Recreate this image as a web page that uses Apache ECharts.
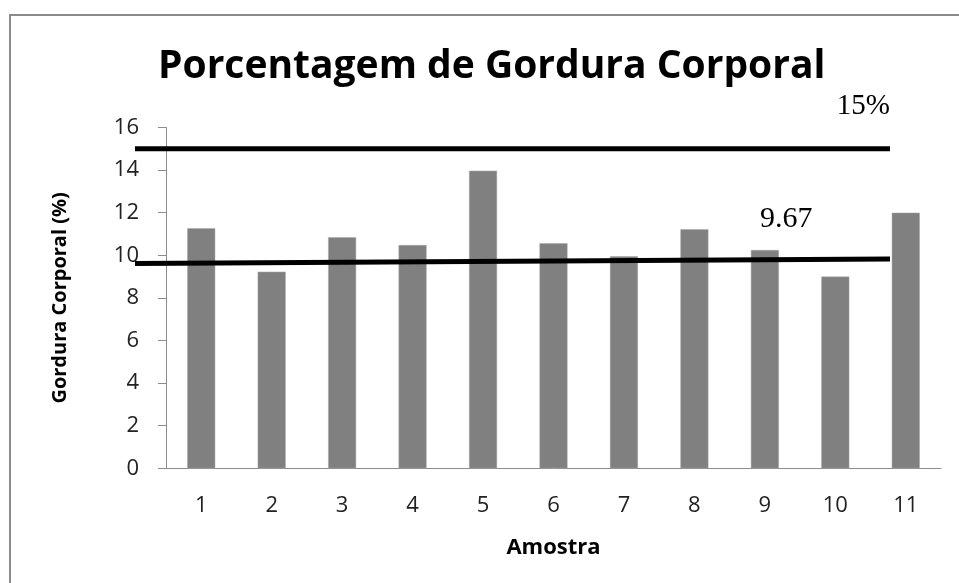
<!DOCTYPE html>
<html>
<head>
    <meta charset="utf-8">
    <title>Porcentagem de Gordura Corporal</title>
    <script src="https://cdn.jsdelivr.net/npm/echarts@6/dist/echarts.min.js"></script>
    <style>
        html, body { margin: 0; padding: 0; background: #ffffff; }
        #chart { width: 959px; height: 583px; }
    </style>
</head>
<body>
<div id="chart"></div>
<script>
    // dados
    var amostras = ['1', '2', '3', '4', '5', '6', '7', '8', '9', '10', '11'];
    var gordura = [11.27, 9.23, 10.85, 10.48, 13.97, 10.56, 9.95, 11.22, 10.25, 9.0, 12.0];
    var yTicks = [0, 2, 4, 6, 8, 10, 12, 14, 16];
    // linhas de referência (início, fim)
    var linhaLimite = [15, 15];
    var linhaMedia = [9.62, 9.83];
    var rotulos = ['15%', '9.67'];

    var chart = echarts.init(document.getElementById('chart'));

    var eixoCor = '#8c8c8c';
    var fonte = '"Open Sans", sans-serif';

    var option = {
        animation: false,
        backgroundColor: '#ffffff',
        title: {
            text: 'Porcentagem de Gordura Corporal',
            left: 153,
            top: 42,
            textStyle: { fontFamily: fonte, fontWeight: 'bold', fontSize: 39, color: '#000' }
        },
        grid: [
            { left: 166, right: 18, top: 127.5, bottom: 114.7 },
            { left: 135, right: 69, top: 127.5, bottom: 114.7 }
        ],
        xAxis: [{
            type: 'category',
            gridIndex: 0,
            data: amostras,
            name: 'Amostra',
            nameLocation: 'middle',
            nameGap: 68,
            nameTextStyle: { fontFamily: fonte, fontWeight: 'bold', fontSize: 22, color: '#000' },
            axisLine: { lineStyle: { color: eixoCor } },
            axisTick: { length: 8, lineStyle: { color: eixoCor } },
            axisLabel: { margin: 26, fontFamily: fonte, fontSize: 22, color: '#222' }
        }, {
            type: 'value',
            gridIndex: 1,
            min: 0,
            max: 1,
            show: false
        }],
        yAxis: [{
            type: 'value',
            gridIndex: 0,
            min: yTicks[0],
            max: yTicks[yTicks.length - 1],
            interval: 2,
            name: 'Gordura Corporal (%)',
            nameLocation: 'middle',
            nameGap: 96,
            nameTextStyle: { fontFamily: fonte, fontWeight: 'bold', fontSize: 20, color: '#000' },
            axisLine: { show: true, lineStyle: { color: eixoCor } },
            axisTick: { show: true, length: 8, lineStyle: { color: eixoCor } },
            axisLabel: { margin: 27, fontFamily: fonte, fontSize: 22, color: '#222' },
            splitLine: { show: false }
        }, {
            type: 'value',
            gridIndex: 1,
            min: yTicks[0],
            max: yTicks[yTicks.length - 1],
            show: false
        }],
        series: [{
            type: 'bar',
            xAxisIndex: 0,
            yAxisIndex: 0,
            data: gordura,
            barWidth: 28,
            itemStyle: { color: '#808080', borderColor: '#a6a6a6', borderWidth: 0.5 }
        }, {
            type: 'line',
            xAxisIndex: 1,
            yAxisIndex: 1,
            data: [[0, linhaLimite[0]], [1, linhaLimite[1]]],
            symbol: 'none',
            lineStyle: { color: '#000', width: 5 }
        }, {
            type: 'line',
            xAxisIndex: 1,
            yAxisIndex: 1,
            data: [[0, linhaMedia[0]], [1, linhaMedia[1]]],
            symbol: 'none',
            lineStyle: { color: '#000', width: 5 }
        }],
        graphic: [{
            type: 'rect',
            shape: { x: 10, y: 15, width: 1000, height: 700 },
            style: { fill: 'none', stroke: '#8a8a8a', lineWidth: 2 },
            silent: true
        }, {
            type: 'text',
            right: 69,
            top: 92,
            style: { text: rotulos[0], font: '29px "Liberation Serif", serif', fill: '#000' }
        }, {
            type: 'text',
            left: 760,
            top: 204,
            style: { text: rotulos[1], font: '30px "Liberation Serif", serif', fill: '#000' }
        }]
    };

    chart.setOption(option);
</script>
</body>
</html>
